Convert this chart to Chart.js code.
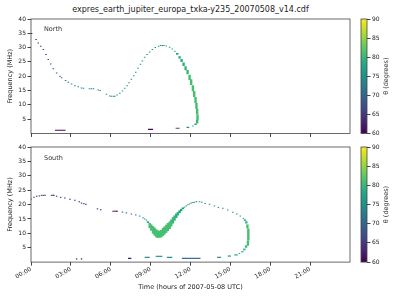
<!DOCTYPE html>
<html>
<head>
<meta charset="utf-8">
<script src="https://cdn.jsdelivr.net/npm/chart.js@4.4.0/dist/chart.umd.min.js"></script>
<style>
  body { margin: 0; background: #fff; width: 400px; height: 300px; overflow: hidden; position: relative; font-family: 'DejaVu Sans'; }
  canvas { position: absolute; }
  #title { position: absolute; top: 5px; left: 0; width: 381px; text-align: center; font-size: 8px; color: #222; white-space: nowrap; }
</style>
</head>
<body>
<div id="title">expres_earth_jupiter_europa_txka-y235_20070508_v14.cdf</div>
<canvas id="northChart" width="360" height="140" style="left:0;top:0"></canvas>
<canvas id="northBar" width="45" height="140" style="left:355px;top:0"></canvas>
<canvas id="southChart" width="360" height="160" style="left:0;top:140px"></canvas>
<canvas id="southBar" width="45" height="160" style="left:355px;top:140px"></canvas>
<script>
// =========================
// DATA
// =========================
const hourTicks = [0, 3, 6, 9, 12, 15, 18, 21];
const freqTicks = [5, 10, 15, 20, 25, 30, 35, 40];
const thetaTicks = [60, 65, 70, 75, 80, 85, 90];

// North emission: time (h), frequency (MHz), frequency extent (MHz), theta (deg)
const northTime = [
  0.05, 0.38, 0.55, 0.73, 0.93, 1.13, 1.3, 1.48, 1.68, 1.93,
  2.18, 2.3, 2.6, 2.8, 3.05, 3.3, 3.55, 3.8, 3.95, 4.4,
  4.55, 4.7, 5.05, 5.2, 5.68, 5.93, 6.05, 6.2, 6.3, 6.48,
  6.68, 6.88, 7.05, 7.23, 7.38, 7.55, 7.73, 7.88, 8.05, 8.23,
  8.38, 8.55, 8.73, 8.93, 9.13, 9.35, 9.6, 9.75, 9.88, 10.0,
  10.18, 10.43, 10.63, 10.83, 11.0, 11.18, 11.33, 11.48, 11.63, 11.78,
  11.93, 12.05, 12.18, 12.28, 12.38, 12.45, 12.5, 12.53, 12.5, 12.38,
  12.18
];
const northFreq = [
  34.9, 32.8, 31.6, 30.5, 29.3, 27.6, 25.8, 24.3, 22.6, 21.1,
  20.0, 19.5, 18.5, 17.9, 17.3, 16.7, 16.3, 15.9, 15.8, 15.6,
  15.6, 15.6, 15.2, 15.0, 13.7, 13.1, 13.0, 13.0, 13.0, 13.4,
  14.0, 14.8, 15.8, 16.7, 17.7, 18.9, 20.2, 21.4, 22.8, 24.2,
  25.3, 26.6, 27.6, 28.5, 29.3, 30.0, 30.5, 30.7, 30.7, 30.7,
  30.6, 30.1, 29.5, 28.7, 27.8, 26.6, 25.5, 24.2, 22.8, 21.4,
  19.6, 17.9, 15.8, 13.8, 11.7, 9.6, 7.6, 5.6, 4.1, 3.2,
  2.6
];
const northSpan = [
  0, 0, 0, 0, 0, 0, 0, 0, 0, 0,
  0, 0, 0, 0, 0, 0, 0, 0, 0, 0,
  0, 0, 0, 0, 0, 0, 0, 0, 0, 0,
  0, 0, 0, 0, 0, 0, 0, 0, 0, 0,
  0, 0, 0, 0, 0, 0, 0, 0, 0, 0,
  0, 0, 0, 0, 0.6, 0.8, 1.0, 1.2, 1.4, 1.5,
  1.8, 2.0, 2.1, 2.1, 2.1, 2.1, 2.0, 2.0, 1.2, 0.6,
  0
];
const northTheta = [
  65, 65, 65, 65, 65, 66, 66, 67, 67, 68,
  69, 69, 71, 72, 73, 73, 74, 74, 74, 74,
  74, 74, 74, 74, 74, 74, 74, 74, 74, 74,
  74, 74, 74, 74, 74, 74, 74, 74, 74, 75,
  75, 75, 75, 75, 75, 75, 75, 76, 76, 76,
  76, 76, 77, 77, 78, 78, 79, 79, 80, 80,
  81, 81, 81, 81, 81, 81, 81, 81, 80, 78,
  76
];
// North horizontal dashes near the bottom
const northDashStart = [1.8, 8.8, 10.88, 11.7];
const northDashEnd = [2.6, 9.18, 11.18, 11.9];
const northDashFreq = [1.1, 1.4, 1.8, 2.1];
const northDashTheta = [60.5, 61, 67, 75];

// South emission
const southTime = [
  0, 0.23, 0.43, 0.63, 0.8, 0.93, 1.05, 1.55, 1.65, 1.73,
  1.93, 2.23, 2.55, 2.93, 3.3, 3.63, 3.8, 3.98, 4.13, 5.0,
  5.25, 6.18, 6.3, 6.4, 6.48, 6.88, 7.18, 7.55, 7.88, 8.18,
  8.43, 8.55, 8.68, 8.8, 8.93, 9.05, 9.18, 9.3, 9.43, 9.55,
  9.68, 9.8, 9.93, 10.05, 10.18, 10.3, 10.43, 10.55, 10.68, 10.8,
  10.93, 11.05, 11.18, 11.3, 11.43, 11.55, 11.68, 11.8, 11.93, 12.05,
  12.18, 12.3, 12.45, 12.68, 12.85, 13.1, 13.43, 13.8, 14.1, 14.43,
  14.8, 15.18, 15.48, 15.75, 15.98, 16.1, 16.2, 16.28, 16.35, 16.32,
  16.18, 16.05, 15.9, 15.68
];
const southFreq = [
  21.9, 22.5, 22.9, 23.0, 23.2, 23.2, 23.2, 23.2, 23.2, 23.2,
  22.9, 22.5, 22.3, 21.8, 21.5, 21.0, 20.5, 20.3, 20.1, 18.5,
  18.2, 17.7, 17.7, 17.7, 17.7, 17.4, 17.1, 16.7, 16.4, 16.0,
  15.4, 15.0, 14.6, 13.9, 12.7, 12.0, 11.2, 10.6, 10.0, 9.7,
  9.7, 9.9, 10.5, 11.0, 11.6, 12.2, 12.8, 13.6, 14.5, 15.3,
  16.1, 16.8, 17.5, 18.1, 18.7, 19.1, 19.5, 19.9, 20.2, 20.5,
  20.7, 20.8, 21.0, 21.0, 20.8, 20.4, 20.1, 19.5, 19.0, 18.7,
  18.1, 17.3, 16.7, 16.0, 15.2, 14.6, 13.8, 12.4, 9.6, 6.6,
  5.4, 4.4, 3.6, 3.0
];
const southSpan = [
  0, 0, 0, 0, 0, 0, 0, 0, 0, 0,
  0, 0, 0, 0, 0, 0, 0, 0, 0, 0,
  0, 0, 0, 0, 0, 0, 0, 0, 0, 0,
  0, 0, 0, 0.6, 1.8, 2.2, 2.6, 2.8, 2.8, 2.6,
  2.4, 2.6, 2.8, 2.8, 2.8, 2.8, 2.6, 2.4, 2.2, 1.8,
  1.6, 1.2, 1.0, 0.8, 0.6, 0, 0, 0, 0, 0,
  0, 0, 0, 0, 0, 0, 0, 0, 0, 0,
  0, 0, 0, 0, 0, 0.5, 0.8, 1.4, 4.2, 1.8,
  0.8, 0.6, 0.4, 0
];
const southTheta = [
  63, 63, 63, 63, 63, 63, 63, 63, 63, 63,
  63, 63, 63, 63, 63, 63, 63, 63, 63, 63,
  63, 61, 61, 61, 61, 66, 66, 68, 71, 73,
  75, 76, 77, 79, 81, 81, 81, 81, 81, 81,
  81, 81, 81, 81, 81, 81, 81, 81, 80, 80,
  79, 79, 78, 78, 77, 77, 76, 76, 76, 75,
  75, 75, 75, 75, 75, 75, 75, 75, 75, 75,
  75, 75, 75, 76, 77, 78, 80, 81, 81, 81,
  80, 79, 78, 77
];
const southDashStart = [3.38, 3.75, 7.3, 8.55, 9.38, 10.22, 11.35, 14.0, 14.8, 15.3];
const southDashEnd = [3.48, 3.85, 7.55, 8.93, 9.88, 10.63, 12.75, 14.3, 15.05, 15.55];
const southDashFreq = [1.1, 1.1, 1.3, 1.65, 2.0, 1.65, 1.3, 1.65, 2.1, 2.5];
const southDashTheta = [61, 61, 61, 74, 76, 74, 70, 74, 76, 77];

// =========================
// COLOUR MAP
// =========================
const VIRIDIS = ['#440154', '#482475', '#414487', '#355f8d', '#2a788e', '#21918c',
                 '#22a884', '#44bf70', '#7ad151', '#bddf26', '#fde725'];

function hexToRgb(h) {
    return [1, 3, 5].map(i => parseInt(h.substr(i, 2), 16));
}

function viridis(v) {
    const u = Math.min(1, Math.max(0, (v - 60) / 30)) * 10;
    const i = Math.min(9, Math.floor(u));
    const f = u - i;
    const a = hexToRgb(VIRIDIS[i]), b = hexToRgb(VIRIDIS[i + 1]);
    const c = a.map((x, k) => Math.round(x + (b[k] - x) * f));
    return `rgb(${c[0]},${c[1]},${c[2]})`;
}

// =========================
// PLUGINS
// =========================
const framePlugin = {
    id: 'frame',
    afterDraw(chart) {
        const { ctx, chartArea: a } = chart;
        ctx.save();
        ctx.strokeStyle = '#444';
        ctx.lineWidth = 0.8;
        ctx.strokeRect(a.left, a.top, a.right - a.left, a.bottom - a.top);
        ctx.restore();
    }
};

const panelLabel = {
    id: 'panelLabel',
    afterDraw(chart, args, opts) {
        if (!opts.text) return;
        const { ctx, chartArea: a } = chart;
        ctx.save();
        ctx.font = '6.5px "DejaVu Sans"';
        ctx.fillStyle = '#333';
        ctx.textBaseline = 'middle';
        if (opts.rotate) {
            ctx.translate(opts.x, (a.top + a.bottom) / 2);
            ctx.rotate(-Math.PI / 2);
            ctx.textAlign = 'center';
            ctx.fillText(opts.text, 0, 0);
        } else {
            ctx.fillText(opts.text, a.left + 13, a.top + opts.dy);
        }
        ctx.restore();
    }
};

Chart.defaults.font.family = 'DejaVu Sans';
Chart.defaults.font.size = 6;
Chart.defaults.color = '#222';

// =========================
// DATASETS
// =========================
// single-channel dots are thin, spread (multi-channel) columns are drawn wider
function markDatasets(time, freq, span, theta) {
    const build = (wide, thickness) => {
        const idx = time.map((t, i) => i).filter(i => (span[i] > 0) === wide);
        return {
            type: 'bar',
            data: idx.map(i => {
                const h = Math.max(span[i], 0.35) / 2;
                return { x: time[i], y: [freq[i] - h, freq[i] + h] };
            }),
            backgroundColor: idx.map(i => viridis(theta[i])),
            borderWidth: 0,
            inflateAmount: 0,
            barThickness: thickness,
            grouped: false
        };
    };
    return [build(false, 1.5), build(true, 2.4)];
}

function dashDatasets(start, end, freq, theta) {
    return start.map((t0, i) => ({
        type: 'line',
        data: [{ x: t0, y: freq[i] }, { x: end[i], y: freq[i] }],
        borderColor: viridis(theta[i]),
        borderWidth: 1.2,
        pointRadius: 0
    }));
}

// =========================
// PANEL
// =========================
function makePanel(id, label, labelDy, marks, dashes, bottomAxis, canvasH, padTop, plotBottom) {
    const xTicks = {
        autoSkip: false,
        padding: 0,
        callback: v => bottomAxis ? String(v).padStart(2, '0') + ':00' : ''
    };
    if (bottomAxis) { xTicks.minRotation = 30; xTicks.maxRotation = 30; }

    return new Chart(document.getElementById(id), {
        type: 'bar',
        data: { datasets: marks.concat(dashes) },
        options: {
            responsive: false,
            animation: false,
            events: [],
            layout: { padding: { top: padTop, right: 10, left: 0, bottom: 0 } },
            plugins: {
                legend: { display: false },
                tooltip: { enabled: false },
                panelLabel: { text: label, dy: labelDy }
            },
            scales: {
                x: {
                    type: 'linear',
                    min: 0, max: 24,
                    offset: false,
                    afterBuildTicks: s => { s.ticks = hourTicks.map(v => ({ value: v })); },
                    afterFit: s => { s.height = canvasH - plotBottom; },
                    border: { display: false },
                    grid: { drawOnChartArea: false, tickLength: 3.5, color: '#444', offset: false },
                    ticks: xTicks,
                    title: {
                        display: bottomAxis,
                        text: 'Time (hours of 2007-05-08 UTC)',
                        font: { size: 6.5 },
                        padding: { top: 0, bottom: 9 }
                    }
                },
                y: {
                    min: 0, max: 40,
                    afterBuildTicks: s => { s.ticks = freqTicks.map(v => ({ value: v })); },
                    afterFit: s => { s.width = 31; },
                    border: { display: false },
                    grid: { drawOnChartArea: false, tickLength: 3.5, color: '#444' },
                    ticks: { padding: 1.5, autoSkip: false },
                    title: {
                        display: true,
                        text: 'Frequency (MHz)',
                        font: { size: 6.5 },
                        padding: { top: 6, bottom: 0 }
                    }
                }
            }
        },
        plugins: [framePlugin, panelLabel]
    });
}

function makeColorbar(id, canvasH, padTop, plotBottom) {
    return new Chart(document.getElementById(id), {
        type: 'bar',
        data: {
            labels: ['theta'],
            datasets: [{
                data: [[60, 90]],
                barPercentage: 1,
                categoryPercentage: 1,
                borderWidth: 0,
                backgroundColor: ctx => {
                    const a = ctx.chart.chartArea;
                    if (!a) return VIRIDIS[5];
                    const g = ctx.chart.ctx.createLinearGradient(0, a.bottom, 0, a.top);
                    VIRIDIS.forEach((c, k) => g.addColorStop(k / 10, c));
                    return g;
                }
            }]
        },
        options: {
            responsive: false,
            animation: false,
            events: [],
            layout: { padding: { top: padTop, left: 6, right: 0, bottom: canvasH - plotBottom } },
            plugins: {
                legend: { display: false },
                tooltip: { enabled: false },
                panelLabel: { text: 'θ (degrees)', rotate: true, x: 31 }
            },
            scales: {
                x: { display: false },
                y: {
                    position: 'right',
                    min: 60, max: 90,
                    afterBuildTicks: s => { s.ticks = thetaTicks.map(v => ({ value: v })); },
                    afterFit: s => { s.width = 33; },
                    border: { display: false },
                    grid: { drawOnChartArea: false, tickLength: 3.5, color: '#444' },
                    ticks: { padding: 1.5, autoSkip: false }
                }
            }
        },
        plugins: [framePlugin, panelLabel]
    });
}

makePanel('northChart', 'North', 10.5,
    markDatasets(northTime, northFreq, northSpan, northTheta),
    dashDatasets(northDashStart, northDashEnd, northDashFreq, northDashTheta),
    false, 140, 19, 133.4);
makeColorbar('northBar', 140, 19, 133.4);

makePanel('southChart', 'South', 11.7,
    markDatasets(southTime, southFreq, southSpan, southTheta),
    dashDatasets(southDashStart, southDashEnd, southDashFreq, southDashTheta),
    true, 160, 7, 122.1);
makeColorbar('southBar', 160, 7, 122.1);
</script>
</body>
</html>
